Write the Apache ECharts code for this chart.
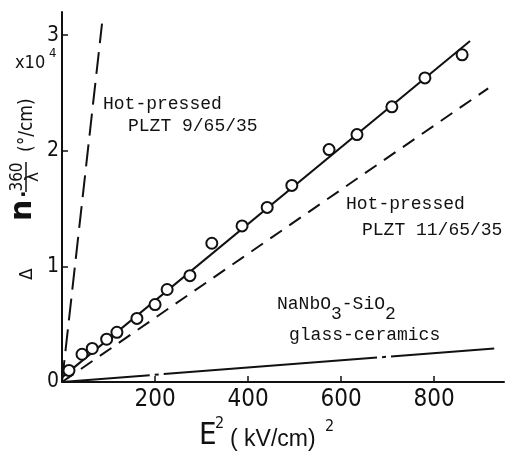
<!DOCTYPE html>
<html>
<head>
<meta charset="utf-8">
<script src="https://cdn.jsdelivr.net/npm/echarts@6/dist/echarts.min.js"></script>
<style>
html,body{margin:0;padding:0;background:#fff;}
#c{width:511px;height:451px;}
</style>
</head>
<body>
<div id="c"></div>
<script>
// ---- data ----
const xTicks = [200, 400, 600, 800];
const yTicks = [0, 1, 2, 3];
// measured points (E^2 in (kV/cm)^2, Δn·360/λ in 10^4 °/cm)
const measE2 = [15, 43, 65, 96, 118, 161, 200, 226, 275, 322, 387, 441, 494, 574, 634, 709, 780, 860];
const measDn = [0.10, 0.24, 0.29, 0.37, 0.43, 0.55, 0.67, 0.80, 0.92, 1.20, 1.35, 1.51, 1.70, 2.01, 2.14, 2.38, 2.63, 2.83];
// fitted line through measured points
const fitE2 = [0, 877];
const fitDn = [0.04, 2.95];
// Hot-pressed PLZT 9/65/35
const plzt9E2 = [0, 86];
const plzt9Dn = [0, 3.10];
// Hot-pressed PLZT 11/65/35
const plzt11E2 = [0, 916];
const plzt11Dn = [0, 2.54];
// NaNbO3-SiO2 glass-ceramics
const nanbE2 = [0, 929];
const nanbDn = [0, 0.29];

const pairs = (xs, ys) => xs.map((x, i) => [x, ys[i]]);
const INK = '#111';
const NARROW = '"Liberation Sans Narrow","DejaVu Sans Condensed","Roboto Condensed",sans-serif';
const MONO = '"Liberation Mono","DejaVu Sans Mono",monospace';

const chart = echarts.init(document.getElementById('c'), null, {renderer: 'canvas'});

const option = {
  backgroundColor: '#fff',
  animation: false,
  grid: {left: 62, right: 7, top: 12, bottom: 69, containLabel: false},
  xAxis: {
    type: 'value', min: 0, max: 950, interval: 200,
    axisLine: {show: true, onZero: false, lineStyle: {color: INK, width: 2}},
    axisTick: {show: true, inside: true, length: 6, customValues: xTicks, lineStyle: {color: INK, width: 1.5}},
    axisLabel: {customValues: xTicks, fontSize: 24, fontFamily: NARROW, color: INK, margin: 6},
    splitLine: {show: false}
  },
  yAxis: {
    type: 'value', min: 0, max: 3.2, interval: 1,
    axisLine: {show: true, onZero: false, lineStyle: {color: INK, width: 2}},
    axisTick: {show: true, inside: true, length: 6, customValues: [1, 2, 3], lineStyle: {color: INK, width: 1.5}},
    axisLabel: {customValues: yTicks, fontSize: 21, fontFamily: NARROW, color: INK, margin: 3},
    splitLine: {show: false}
  },
  series: [
    {
      type: 'line', data: pairs(plzt9E2, plzt9Dn), symbol: 'none', silent: true,
      lineStyle: {color: INK, width: 2, type: [22, 9]}
    },
    {
      type: 'line', data: pairs(plzt11E2, plzt11Dn), symbol: 'none', silent: true,
      lineStyle: {color: INK, width: 2, type: [14, 9]}
    },
    {
      type: 'line', data: pairs(nanbE2, nanbDn), symbol: 'none', silent: true,
      lineStyle: {color: INK, width: 2, type: [214, 5, 4, 5], dashOffset: 126}
    },
    {
      type: 'line', data: pairs(fitE2, fitDn), symbol: 'none', silent: true,
      lineStyle: {color: INK, width: 2}
    },
    {
      type: 'scatter', data: pairs(measE2, measDn), symbol: 'circle', symbolSize: 11, z: 5,
      itemStyle: {color: '#fff', borderColor: INK, borderWidth: 2, opacity: 1}
    }
  ],
  graphic: [
    // x10^4 multiplier
    {type: 'text', left: 15, top: 54, style: {text: 'x10', font: '18px ' + NARROW, fill: INK}},
    {type: 'text', left: 49, top: 47, style: {text: '4', font: '13px ' + NARROW, fill: INK}},
    // x axis title
    {type: 'text', x: 199, y: 451, style: {text: 'E', font: '31px ' + NARROW, fill: INK, textVerticalAlign: 'bottom'}},
    {type: 'text', x: 215, y: 416, style: {text: '2', font: '16px ' + NARROW, fill: INK, textVerticalAlign: 'top'}},
    {type: 'text', x: 230, y: 451, style: {text: '( kV/cm)', font: '23px "Liberation Sans",sans-serif', fill: INK, textVerticalAlign: 'bottom'}},
    {type: 'text', x: 325, y: 419, style: {text: '2', font: '16px ' + NARROW, fill: INK, textVerticalAlign: 'top'}},
    // y axis title (rotated)
    {
      type: 'group', x: 28, y: 282, rotation: Math.PI / 2,
      children: [
        {type: 'text', x: 2, y: 0, style: {text: 'Δ', font: '17px "DejaVu Sans",sans-serif', fill: INK, textAlign: 'left', textVerticalAlign: 'middle'}},
        {type: 'text', x: 61, y: -5, style: {text: 'n', font: 'bold 30px "DejaVu Sans",sans-serif', fill: INK, textAlign: 'left', textVerticalAlign: 'middle'}},
        {type: 'text', x: 84, y: -3, style: {text: '·', font: 'bold 20px "DejaVu Sans",sans-serif', fill: INK, textAlign: 'left', textVerticalAlign: 'middle'}},
        {type: 'text', x: 105, y: -10, style: {text: '360', font: '17px ' + NARROW, fill: INK, textAlign: 'center', textVerticalAlign: 'middle'}},
        {type: 'line', shape: {x1: 90, y1: -2, x2: 120, y2: -2}, style: {stroke: INK, lineWidth: 1.5}},
        {type: 'text', x: 105, y: 6, style: {text: 'λ', font: '17px "DejaVu Sans",sans-serif', fill: INK, textAlign: 'center', textVerticalAlign: 'middle'}},
        {type: 'text', x: 130, y: -1, style: {text: '(°/cm)', font: '19px ' + NARROW, fill: INK, textAlign: 'left', textVerticalAlign: 'middle'}}
      ]
    },
    // annotations
    {type: 'text', left: 103, top: 95, style: {text: 'Hot-pressed', font: '18px ' + MONO, fill: INK}},
    {type: 'text', left: 128, top: 117, style: {text: 'PLZT 9/65/35', font: '18px ' + MONO, fill: INK}},
    {type: 'text', left: 346, top: 195, style: {text: 'Hot-pressed', font: '18px ' + MONO, fill: INK}},
    {type: 'text', left: 362, top: 221, style: {text: 'PLZT 11/65/35', font: '18px ' + MONO, fill: INK}},
    {type: 'text', left: 277, top: 295, style: {
      text: '{n|NaNbO}{s|3}{n|-SiO}{s|2}',
      rich: {
        n: {font: '18px ' + MONO, fill: INK, verticalAlign: 'top', lineHeight: 28},
        s: {font: '18px ' + MONO, fill: INK, verticalAlign: 'bottom', lineHeight: 28}
      }
    }},
    {type: 'text', left: 289, top: 326, style: {text: 'glass-ceramics', font: '18px ' + MONO, fill: INK}}
  ]
};
chart.setOption(option);
</script>
</body>
</html>
